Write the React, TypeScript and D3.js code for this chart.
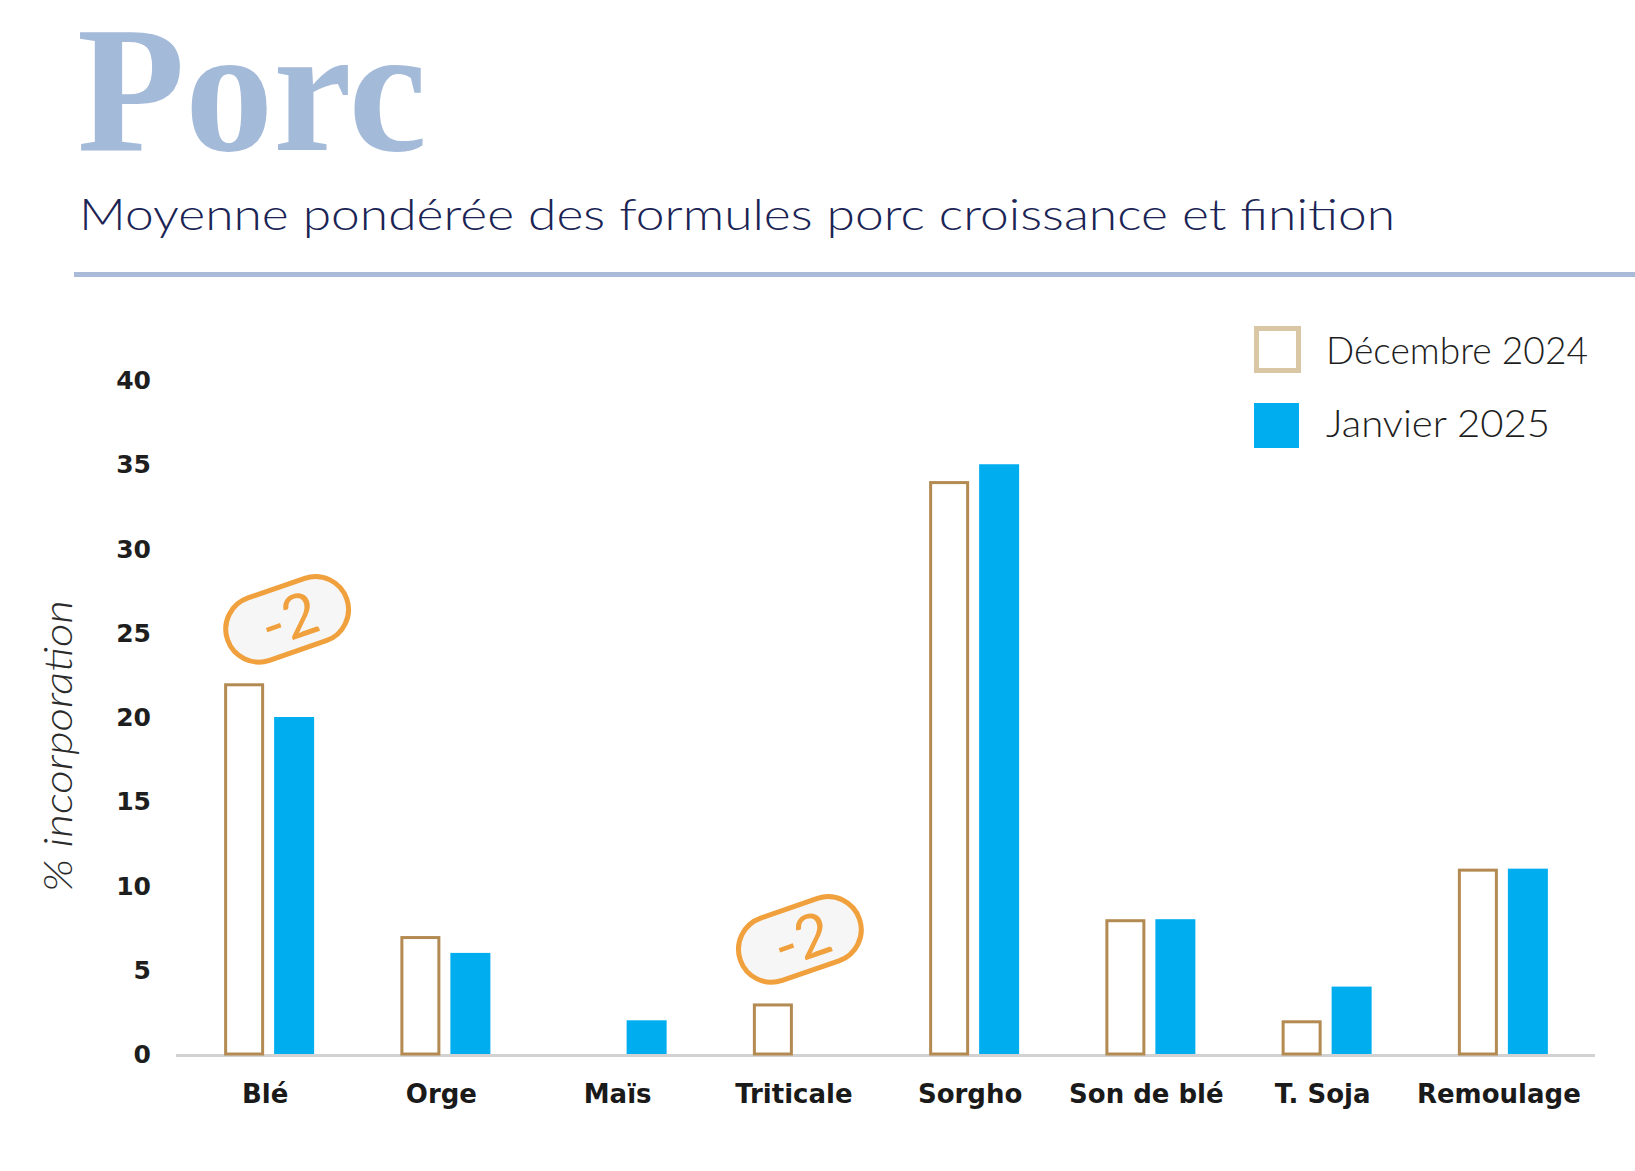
import React from 'react';
import * as d3 from 'd3';

const categories = ['Blé', 'Orge', 'Maïs', 'Triticale', 'Sorgho', 'Son de blé', 'T. Soja', 'Remoulage'];
const dec2024 = [22, 7, 0, 3, 34, 8, 2, 11];
const jan2025 = [20, 6, 2, 0, 35, 8, 4, 11];
const seriesNames = ['Décembre 2024', 'Janvier 2025'];
const yTicks = [0, 5, 10, 15, 20, 25, 30, 35, 40];
const badgeCategories = ['Blé', 'Triticale'];
const badgeLabels = ['-2', '-2'];

const W = 1635;
const H = 1171;

const DEC_STROKE = '#b38a52';
const JAN_FILL = '#00aeef';
const BADGE = '#f0a03c';

const App = () => {
  const x = d3.scaleBand<string>().domain(categories).range([181, 1591]).padding(0);
  const inner = d3.scaleBand<string>().domain(seriesNames).range([-45, 45]).paddingInner(0.2);
  const y = d3.scaleLinear().domain([0, 40]).range([1054, 380]);

  const center = (c: string) => (x(c) ?? 0) + x.bandwidth() / 2;
  const bw = inner.bandwidth();
  const sw = 3;

  return (
    <svg width={W} height={H} style={{ position: 'absolute', left: 0, top: 0, background: '#fff' }}>
      {/* header */}
      <text x={77} y={150} fontFamily="Liberation Serif" fontWeight="bold" fontSize={180}
        fill="#a4bad9" textLength={350} lengthAdjust="spacingAndGlyphs">Porc</text>
      <text x={79} y={230} fontFamily="Lato" fontWeight={300} fontSize={44} fill="#1b2454"
        textLength={1316} lengthAdjust="spacingAndGlyphs">Moyenne pondérée des formules porc croissance et finition</text>
      <rect x={74} y={272} width={W - 74} height={5} fill="#a9bbd9" />

      {/* y axis */}
      {yTicks.map((t) => (
        <text key={t} x={151} y={y(t)} dy="0.36em" textAnchor="end" fontFamily="DejaVu Sans"
          fontWeight="bold" fontSize={25} fill="#1e1e1e">{t}</text>
      ))}
      <text transform={`translate(72,746) rotate(-90)`} textAnchor="middle" fontFamily="Lato"
        fontStyle="italic" fontWeight={300} fontSize={40} fill="#2b2b2b"
        textLength={292} lengthAdjust="spacingAndGlyphs">% incorporation</text>

      {/* baseline */}
      <line x1={176} x2={1595} y1={y(0) + 1.5} y2={y(0) + 1.5} stroke="#d2d2d2" strokeWidth={3} />

      {/* bars */}
      {categories.map((c, i) => {
        const cx = center(c);
        const dx = cx + (inner(seriesNames[0]) ?? 0);
        const jx = cx + (inner(seriesNames[1]) ?? 0);
        return (
          <g key={c}>
            {dec2024[i] > 0 && (
              <rect x={dx + sw / 2} y={y(dec2024[i]) + sw / 2} width={bw - sw}
                height={y(0) - y(dec2024[i]) - sw / 2} fill="#fff" stroke={DEC_STROKE} strokeWidth={sw} />
            )}
            {jan2025[i] > 0 && (
              <rect x={jx} y={y(jan2025[i])} width={bw} height={y(0) - y(jan2025[i])} fill={JAN_FILL} />
            )}
            <text x={cx - 4} y={1103} textAnchor="middle" fontFamily="DejaVu Sans" fontWeight="bold"
              fontSize={26} fill="#1a1a1a">{c}</text>
          </g>
        );
      })}

      {/* change badges */}
      {badgeCategories.map((c, k) => {
        const i = categories.indexOf(c);
        const bx = center(c) + (c === 'Blé' ? 18 : 2);
        const by = y(dec2024[i]) - 64;
        return (
          <g key={c} transform={`translate(${bx},${by}) rotate(-19)`}>
            <rect x={-63} y={-33} width={126} height={66} rx={33} fill="#f6f6f6"
              stroke={BADGE} strokeWidth={5} />
            <text x={2} y={0} dy="0.36em" textAnchor="middle" fontFamily="Lato" fontSize={60}
              fill={BADGE}>{badgeLabels[k]}</text>
          </g>
        );
      })}

      {/* legend */}
      <rect x={1256.5} y={328.5} width={42} height={42} fill="#fff" stroke="#d8c6a4" strokeWidth={5} />
      <text x={1326} y={364} fontFamily="Lato" fontWeight={300} fontSize={38} fill="#1e1e1e"
        textLength={262} lengthAdjust="spacingAndGlyphs">{seriesNames[0]}</text>
      <rect x={1254} y={403} width={45} height={45} fill={JAN_FILL} />
      <text x={1326} y={437} fontFamily="Lato" fontWeight={300} fontSize={38} fill="#1e1e1e"
        textLength={224} lengthAdjust="spacingAndGlyphs">{seriesNames[1]}</text>
    </svg>
  );
};

export default App;
